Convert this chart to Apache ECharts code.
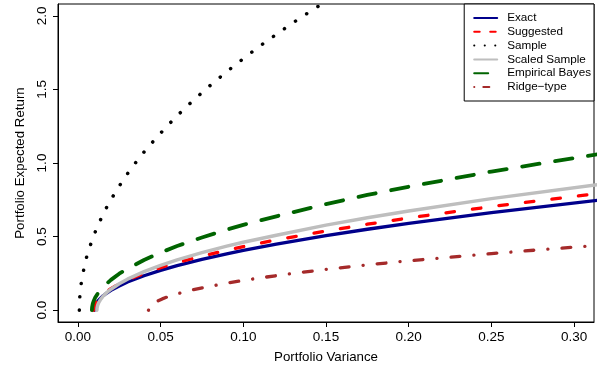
<!DOCTYPE html>
<html><head><meta charset="utf-8">
<script src="https://cdn.jsdelivr.net/npm/echarts@6/dist/echarts.min.js"></script>
<style>html,body{margin:0;padding:0;background:#fff}#c{width:600px;height:373px}</style>
</head><body><div id="c"></div>
<script>
// ---- data ----
const seriesNames = ['Exact', 'Suggested', 'Sample', 'Scaled Sample', 'Empirical Bayes', 'Ridge\u2212type'];
const xTicks = [0, 0.05, 0.10, 0.15, 0.20, 0.25, 0.30];
const yTicks = [0, 0.5, 1.0, 1.5, 2.0];

const exactX = [0.010, 0.0101, 0.0105, 0.011, 0.012, 0.0135, 0.015, 0.0175, 0.02, 0.025, 0.03, 0.04, 0.05, 0.06, 0.075, 0.09, 0.10, 0.12, 0.15, 0.175, 0.20, 0.25, 0.32];
const exactY = [0, 0.014, 0.030, 0.043, 0.061, 0.079, 0.096, 0.117, 0.135, 0.164, 0.192, 0.234, 0.271, 0.303, 0.345, 0.382, 0.406, 0.449, 0.507, 0.550, 0.590, 0.663, 0.754];

const suggestedX = [0.0095, 0.0096, 0.010, 0.0105, 0.0115, 0.013, 0.0145, 0.017, 0.02, 0.025, 0.03, 0.04, 0.05, 0.06, 0.075, 0.09, 0.10, 0.12, 0.15, 0.175, 0.20, 0.25, 0.32];
const suggestedY = [0, 0.014, 0.032, 0.045, 0.064, 0.085, 0.102, 0.125, 0.147, 0.179, 0.206, 0.250, 0.289, 0.323, 0.368, 0.407, 0.432, 0.478, 0.538, 0.584, 0.627, 0.704, 0.800];

const sampleX = [0.0009, 0.00092, 0.001, 0.0011, 0.0013, 0.0015, 0.002, 0.0025, 0.0032, 0.004, 0.005, 0.007, 0.010, 0.0125, 0.015, 0.0175, 0.020, 0.025, 0.030, 0.035, 0.040, 0.0475, 0.055, 0.0625, 0.070, 0.080, 0.090, 0.100, 0.110, 0.120, 0.130, 0.142, 0.155];
const sampleY = [0, 0.024, 0.054, 0.077, 0.109, 0.133, 0.180, 0.217, 0.256, 0.302, 0.350, 0.424, 0.518, 0.586, 0.645, 0.701, 0.751, 0.843, 0.927, 1.003, 1.074, 1.172, 1.263, 1.348, 1.428, 1.527, 1.621, 1.709, 1.794, 1.874, 1.952, 2.041, 2.132];

const scaledX = [0.0115, 0.0116, 0.012, 0.0125, 0.0135, 0.015, 0.0165, 0.018, 0.02, 0.025, 0.03, 0.04, 0.05, 0.06, 0.075, 0.09, 0.10, 0.12, 0.15, 0.175, 0.20, 0.25, 0.32];
const scaledY = [0, 0.016, 0.035, 0.049, 0.069, 0.092, 0.110, 0.125, 0.143, 0.180, 0.211, 0.262, 0.305, 0.342, 0.391, 0.435, 0.462, 0.509, 0.578, 0.628, 0.674, 0.758, 0.862];

const bayesX = [0.0085, 0.0086, 0.009, 0.0095, 0.0105, 0.012, 0.0135, 0.016, 0.02, 0.025, 0.03, 0.04, 0.05, 0.06, 0.075, 0.09, 0.10, 0.12, 0.15, 0.175, 0.20, 0.25, 0.32];
const bayesY = [0, 0.019, 0.043, 0.061, 0.086, 0.113, 0.136, 0.166, 0.206, 0.248, 0.281, 0.341, 0.391, 0.436, 0.494, 0.547, 0.580, 0.638, 0.721, 0.783, 0.839, 0.942, 1.070];

const ridgeX = [0.0427, 0.0428, 0.0432, 0.0437, 0.0447, 0.046, 0.0477, 0.051, 0.055, 0.062, 0.07, 0.08, 0.09, 0.105, 0.12, 0.135, 0.15, 0.175, 0.20, 0.25, 0.32];
const ridgeY = [0, 0.008, 0.019, 0.027, 0.038, 0.049, 0.060, 0.077, 0.094, 0.117, 0.140, 0.162, 0.184, 0.211, 0.235, 0.257, 0.277, 0.308, 0.336, 0.385, 0.446];

// ---- chart ----
const pair = (xs, ys) => xs.map((x, i) => [x, ys[i]]);
const font = 'Liberation Sans, Arial, Helvetica, sans-serif';

function mk(name, xs, ys, color, width, dash) {
  return {
    name, type: 'line', data: pair(xs, ys), symbol: 'none', showSymbol: false,
    smooth: false, clip: true,
    lineStyle: { color, width, type: dash || 'solid', cap: 'round', join: 'round' },
    itemStyle: { color }
  };
}

const legendDash = ['solid', [5.5, 10.5], [0.1, 10.4], 'solid', [14, 20], [0.1, 9, 6, 20]];

const chart = echarts.init(document.getElementById('c'), null, { renderer: 'canvas' });
chart.setOption({
  animation: false,
  backgroundColor: '#fff',
  grid: { left: 58, right: 6, top: 4, bottom: 51, show: true, borderColor: '#000', borderWidth: 1, backgroundColor: 'transparent' },
  xAxis: {
    type: 'value', min: -0.012, max: 0.312,
    name: 'Portfolio Variance', nameLocation: 'middle', nameGap: 29,
    nameTextStyle: { fontFamily: font, fontSize: 13.3, color: '#000' },
    axisLine: { show: true, onZero: false, lineStyle: { color: '#000', width: 1 } },
    splitLine: { show: false },
    axisTick: { show: true, length: 5, inside: false, lineStyle: { color: '#000', width: 1 }, customValues: xTicks },
    axisLabel: { customValues: xTicks, formatter: v => v.toFixed(2), fontFamily: font, fontSize: 13.5, color: '#000', margin: 8 }
  },
  yAxis: {
    type: 'value', min: -0.08, max: 2.08,
    name: 'Portfolio Expected Return', nameLocation: 'middle', nameGap: 31,
    nameTextStyle: { fontFamily: font, fontSize: 13.3, color: '#000' },
    axisLine: { show: true, onZero: false, lineStyle: { color: '#000', width: 1 } },
    splitLine: { show: false },
    axisTick: { show: true, length: 5, inside: false, lineStyle: { color: '#000', width: 1 }, customValues: yTicks },
    axisLabel: { customValues: yTicks, formatter: v => v.toFixed(1), rotate: 90, fontFamily: font, fontSize: 13.5, color: '#000', margin: 9 }
  },
  legend: {
    orient: 'vertical', right: 6, top: 4,
    padding: [8, 3, 8, 9],
    itemWidth: 23, itemHeight: 10, itemGap: 1.8,
    borderColor: '#000', borderWidth: 1, backgroundColor: '#fff',
    lineStyle: { width: 2 },
    itemStyle: { opacity: 0, color: 'transparent', borderColor: 'transparent', borderWidth: 0 },
    textStyle: { fontFamily: font, fontSize: 11.7, color: '#000', lineHeight: 12, padding: [0, 0, 0, 5] },
    data: seriesNames.map((n, i) => ({ name: n, lineStyle: { type: legendDash[i], width: 2, cap: 'round' } }))
  },
  series: [
    mk(seriesNames[0], exactX, exactY, '#00008B', 3.3),
    mk(seriesNames[1], suggestedX, suggestedY, '#FF0000', 3.3, [8.5, 18.2]),
    mk(seriesNames[2], sampleX, sampleY, '#000000', 3.5, [0.1, 13.3]),
    mk(seriesNames[3], scaledX, scaledY, '#BEBEBE', 3.5),
    mk(seriesNames[4], bayesX, bayesY, '#006400', 3.8, [17.5, 15.8]),
    mk(seriesNames[5], ridgeX, ridgeY, '#A52A2A', 3.3, [0.1, 14.1, 8.8, 14.1])
  ]
});
</script></body></html>
